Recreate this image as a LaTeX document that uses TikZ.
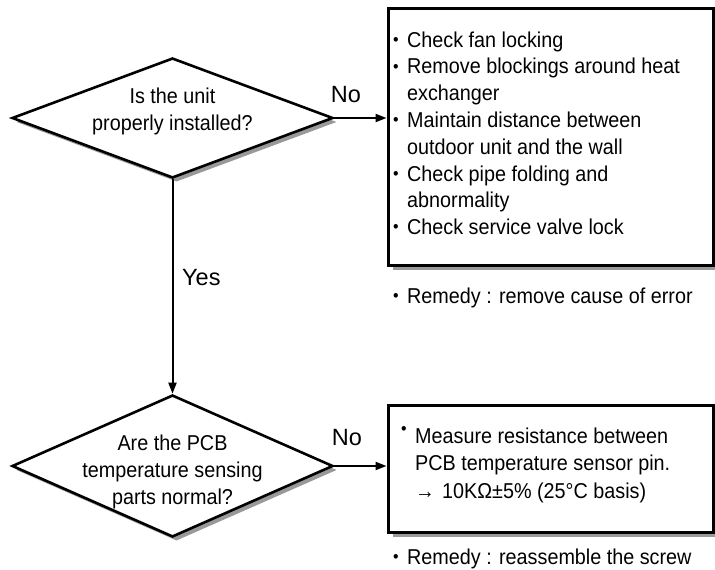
\documentclass[tikz,border=0pt]{standalone}
\usepackage{fontspec}
\setmainfont{Liberation Sans}[FakeStretch=0.92]
\newfontfamily\lblfont{Liberation Sans}
\usetikzlibrary{shapes.geometric,arrows.meta,shadows}
\newcommand\bul{\raisebox{0.08em}{\scalebox{0.8}{•}}}
\newcommand\itm{\makebox[14pt][l]{\bul}}
\begin{document}
\begin{tikzpicture}[x=1pt,y=-1pt,
  every node/.style={font=\fontsize{21.5}{27}\selectfont, inner sep=0pt},
  dia/.style={diamond, draw, line width=2.6pt, fill=white, minimum width=321pt,
    drop shadow={shadow xshift=4pt, shadow yshift=-4pt, fill=black!40, opacity=1}},
  box/.style={draw, line width=3pt, fill=white, minimum width=325pt,
    drop shadow={shadow xshift=5pt, shadow yshift=-5pt, fill=black!40, opacity=1}},
  arr/.style={line width=2pt, -{Triangle[length=11pt,width=8pt]}},
  txt/.style={anchor=base west},
  ctr/.style={anchor=base},
  lbl/.style={font=\lblfont\fontsize{23.5}{27}\selectfont}]
\useasboundingbox[fill=white] (0,0) rectangle (715,570);

% decisions
\node[dia, minimum height=120pt] (d1) at (172.5,118) {};
\node[dia, minimum height=142pt] (d2) at (172.5,466) {};
\node[ctr] (d1a) at (172.5,103.5) {Is the unit};
\node[ctr] (d1b) at (172.5,130.5) {properly installed?};
\node[ctr] (d2a) at (172.5,450) {Are the PCB};
\node[ctr] (d2b) at (172.5,477) {temperature sensing};
\node[ctr] (d2c) at (172.5,504) {parts normal?};

% boxes
\node[box, minimum height=257pt] (b1) at (550.5,136.5) {};
\node[box, minimum height=127pt] (b2) at (550.5,468.5) {};

\node[txt] (l1) at (393,47) {\itm Check fan locking};
\node[txt] (l2) at (393,73.8) {\itm Remove blockings around heat};
\node[txt] (l3) at (407,100.6) {exchanger};
\node[txt] (l4) at (393,127.4) {\itm Maintain distance between};
\node[txt] (l5) at (407,154.2) {outdoor unit and the wall};
\node[txt] (l6) at (393,181) {\itm Check pipe folding and};
\node[txt] (l7) at (407,207.8) {abnormality};
\node[txt] (l8) at (393,234.6) {\itm Check service valve lock};
\node[txt] (r1) at (393,303) {\itm Remedy : remove cause of error};

\node[txt] (m1) at (401,443) {\makebox[14pt][l]{\raisebox{0.3em}{\bul}}Measure resistance between};
\node[txt] (m2) at (415,470.5) {PCB temperature sensor pin.};
\node[txt] (m3) at (415,498) {\makebox[27pt][l]{→}10KΩ±5\% (25°C basis)};
\node[txt] (r2) at (393,564.5) {\itm Remedy : reassemble the screw};

% connectors
\draw[arr] (d1.east) -- (d1.east -| b1.west);
\draw[arr] (d1.south) -- (d2.north);
\draw[arr] (d2.east) -- (d2.east -| b2.west);

\node[ctr, lbl] (no1) at (346,102) {No};
\node[ctr, lbl] (no2) at (347,445) {No};
\node[txt, lbl] (yes) at (182,285) {Yes};
\end{tikzpicture}
\end{document}
